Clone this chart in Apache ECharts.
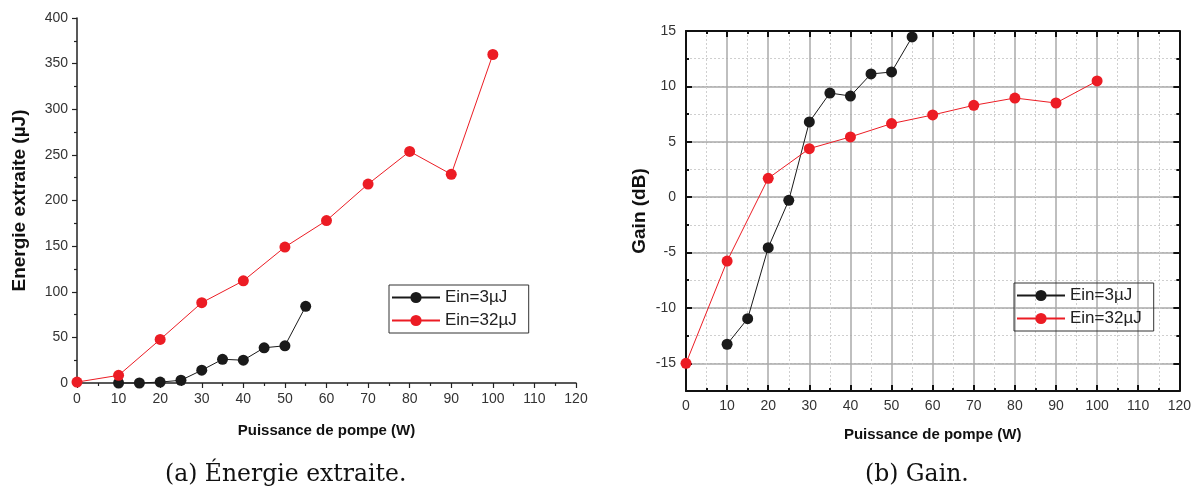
<!DOCTYPE html>
<html>
<head>
<meta charset="utf-8">
<script src="https://cdn.jsdelivr.net/npm/echarts@6/dist/echarts.min.js"></script>
<style>
html,body{margin:0;padding:0;background:#fff;}
#main{width:1194px;height:496px;}
</style>
</head>
<body>
<div id="main"></div>
<script>
// ---- data ----
const pump32 = [0, 10, 20, 30, 40, 50, 60, 70, 80, 90, 100];
const pump3 = [10, 15, 20, 25, 30, 35, 40, 45, 50, 55];
const energy32 = [1, 8.4, 47.7, 88, 112, 149, 178, 218, 253.8, 228.7, 360];
const energy3 = [0, 0, 1, 3, 14, 26, 25, 38.6, 40.8, 84];
const gain32 = [-15, -5.77, 1.7, 4.38, 5.44, 6.64, 7.42, 8.29, 8.95, 8.5, 10.49];
const gain3 = [-13.28, -10.97, -4.56, -0.29, 6.79, 9.4, 9.13, 11.12, 11.3, 14.46];
const seriesNames = ['Ein=3\u00b5J', 'Ein=32\u00b5J'];
const gainMajorTicks = [-15, -10, -5, 0, 5, 10, 15];
const captions = ['(a) \u00c9nergie extraite.', '(b) Gain.'];

const RED = '#ec1c24';
const BLACK = '#1a1a1a';
const FONT = 'Liberation Sans';

const pairs = (xs, ys) => xs.map((x, i) => [x, ys[i]]);

const tickLabel = {color: '#333', fontFamily: FONT, fontSize: 14};

function lineSeries(name, data, color, xi, yi) {
  return {
    type: 'line', name: name, data: data, xAxisIndex: xi, yAxisIndex: yi,
    symbol: 'circle', symbolSize: 11, clip: false,
    lineStyle: {color: color, width: 1},
    itemStyle: {color: color},
    z: 5
  };
}

const legendBase = {
  data: seriesNames, orient: 'vertical',
  itemWidth: 48, itemHeight: 14, itemGap: 6,
  padding: [4, 12, 4, 2], borderColor: '#333', borderWidth: 1,
  textStyle: {fontFamily: FONT, fontSize: 17, color: '#222'}
};

const chart = echarts.init(document.getElementById('main'), null, {renderer: 'canvas'});
const option = {
  animation: false,
  backgroundColor: '#fff',
  grid: [
    {left: 77, top: 18, width: 499, height: 365, containLabel: false},
    {left: 686, top: 31, width: 499, height: 360, containLabel: false}
  ],
  legend: [
    Object.assign({left: 389, top: 285}, legendBase),
    Object.assign({left: 1014, top: 283}, legendBase)
  ],
  xAxis: [
    { // 0 left chart bottom
      type: 'value', gridIndex: 0, min: 0, max: 120, interval: 10,
      name: 'Puissance de pompe (W)', nameLocation: 'middle', nameGap: 40,
      nameTextStyle: {fontFamily: FONT, fontWeight: 'bold', fontSize: 15, color: '#111'},
      axisLine: {onZero: false, lineStyle: {color: '#222', width: 1.5}},
      axisTick: {inside: false, length: 5, lineStyle: {color: '#222', width: 1.2}},
      minorTick: {show: true, splitNumber: 2, length: 3, lineStyle: {color: '#222', width: 1.2}},
      axisLabel: Object.assign({margin: 9}, tickLabel),
      splitLine: {show: false}
    },
    { // 1 right chart bottom
      type: 'value', gridIndex: 1, position: 'bottom', min: 0, max: 120, interval: 10,
      name: 'Puissance de pompe (W)', nameLocation: 'middle', nameGap: 36,
      nameTextStyle: {fontFamily: FONT, fontWeight: 'bold', fontSize: 15, color: '#111'},
      axisLine: {onZero: false, lineStyle: {color: '#111', width: 2}},
      axisTick: {inside: true, length: 6, lineStyle: {color: '#111', width: 2}},
      minorTick: {show: true, splitNumber: 2, length: 3, lineStyle: {color: '#111', width: 2}},
      axisLabel: Object.assign({margin: 8}, tickLabel),
      splitLine: {show: true, lineStyle: {color: '#aaaaaa', width: 1.5}},
      minorSplitLine: {show: true, lineStyle: {color: '#cfcfcf', width: 1, type: [2, 2]}}
    },
    { // 2 right chart top
      type: 'value', gridIndex: 1, position: 'top', min: 0, max: 120, interval: 10,
      axisLine: {onZero: false, lineStyle: {color: '#111', width: 2}},
      axisTick: {inside: true, length: 6, lineStyle: {color: '#111', width: 2}},
      minorTick: {show: true, splitNumber: 2, length: 3, lineStyle: {color: '#111', width: 2}},
      axisLabel: {show: false},
      splitLine: {show: false}
    }
  ],
  yAxis: [
    { // 0 left chart
      type: 'value', gridIndex: 0, min: 0, max: 400, interval: 50,
      name: 'Energie extraite (\u00b5J)', nameLocation: 'middle', nameGap: 48,
      nameTextStyle: {fontFamily: FONT, fontWeight: 'bold', fontSize: 19, color: '#111'},
      axisLine: {show: true, onZero: false, lineStyle: {color: '#222', width: 1.5}},
      axisTick: {show: true, inside: false, length: 5, lineStyle: {color: '#222', width: 1.2}},
      minorTick: {show: true, splitNumber: 2, length: 3, lineStyle: {color: '#222', width: 1.2}},
      axisLabel: Object.assign({margin: 9}, tickLabel),
      splitLine: {show: false}
    },
    { // 1 right chart left: labels + major ticks
      type: 'value', gridIndex: 1, min: -17.5, max: 15, interval: 2.5,
      name: 'Gain (dB)', nameLocation: 'middle', nameGap: 37,
      nameTextStyle: {fontFamily: FONT, fontWeight: 'bold', fontSize: 19, color: '#111'},
      axisLine: {show: true, onZero: false, lineStyle: {color: '#111', width: 2}},
      axisTick: {show: true, inside: true, length: 6, customValues: gainMajorTicks, lineStyle: {color: '#111', width: 2}},
      axisLabel: Object.assign({margin: 10, formatter: function (v) {
        return (Math.abs(v % 5) < 1e-9) ? String(v) : '';
      }}, tickLabel),
      splitLine: {show: false}
    },
    { // 2 right chart left: minor ticks + dotted grid
      type: 'value', gridIndex: 1, min: -17.5, max: 15, interval: 2.5, position: 'left',
      axisLine: {show: false, onZero: false},
      axisTick: {show: true, inside: true, length: 3, lineStyle: {color: '#111', width: 2}},
      axisLabel: {show: false},
      splitLine: {show: true, lineStyle: {color: '#cfcfcf', width: 1, type: [2, 2]}}
    },
    { // 3 right chart: solid major grid (alternating)
      type: 'value', gridIndex: 1, min: -17.5, max: 15, interval: 2.5, position: 'left',
      axisLine: {show: false, onZero: false},
      axisTick: {show: false},
      axisLabel: {show: false},
      splitLine: {show: true, lineStyle: {color: ['rgba(0,0,0,0)', '#aaaaaa'], width: 1.5}}
    },
    { // 4 right chart right axis: major ticks
      type: 'value', gridIndex: 1, min: -17.5, max: 15, interval: 2.5, position: 'right',
      axisLine: {show: true, onZero: false, lineStyle: {color: '#111', width: 2}},
      axisTick: {show: true, inside: true, length: 6, customValues: gainMajorTicks, lineStyle: {color: '#111', width: 2}},
      axisLabel: {show: false},
      splitLine: {show: false}
    },
    { // 5 right chart right axis: minor ticks
      type: 'value', gridIndex: 1, min: -17.5, max: 15, interval: 2.5, position: 'right',
      axisLine: {show: false, onZero: false},
      axisTick: {show: true, inside: true, length: 3, lineStyle: {color: '#111', width: 2}},
      axisLabel: {show: false},
      splitLine: {show: false}
    }
  ],
  graphic: [
    {type: 'text', left: 165, top: 463, style: {text: captions[0], font: '23.5px "DejaVu Serif"', fill: '#111'}},
    {type: 'text', left: 865, top: 463, style: {text: captions[1], font: '23.5px "DejaVu Serif"', fill: '#111'}}
  ],
  series: [
    lineSeries(seriesNames[0], pairs(pump3, energy3), BLACK, 0, 0),
    lineSeries(seriesNames[1], pairs(pump32, energy32), RED, 0, 0),
    lineSeries(seriesNames[0], pairs(pump3, gain3), BLACK, 1, 1),
    lineSeries(seriesNames[1], pairs(pump32, gain32), RED, 1, 1)
  ]
};
chart.setOption(option);
</script>
</body>
</html>
